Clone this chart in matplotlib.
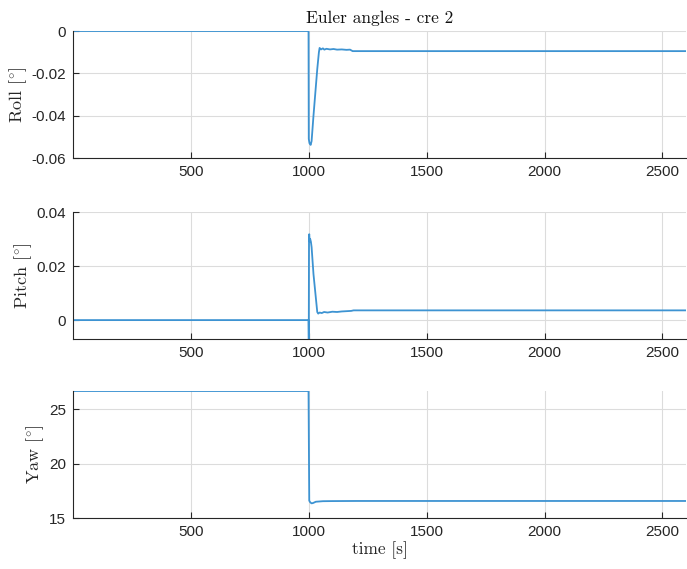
import matplotlib
matplotlib.use("Agg")
import matplotlib.pyplot as plt

plt.rcParams['mathtext.fontset'] = 'cm'
plt.rcParams['font.family'] = ['Liberation Sans', 'DejaVu Sans']

# time stamps (s) and values
roll_t = [0, 999, 1000, 1003, 1008, 1012, 1020, 1028, 1036, 1043, 1046, 1052, 1060, 1066, 1075, 1090, 1105, 1120, 1140, 1160, 1175, 1186, 1200, 2600]
roll_v = [0, 0, -0.051, -0.053, -0.0538, -0.052, -0.040, -0.029, -0.018, -0.010, -0.008, -0.0087, -0.0082, -0.0088, -0.0084, -0.0087, -0.0085, -0.0088, -0.0087, -0.0089, -0.0088, -0.0095, -0.0095, -0.0095]

pitch_t = [0, 999, 1000, 1001, 1002, 1004, 1006, 1009, 1012, 1020, 1028, 1036, 1040, 1046, 1055, 1065, 1080, 1100, 1120, 1140, 1160, 1180, 1190, 2600]
pitch_v = [0, 0, -0.007, 0.031, 0.0318, 0.029, 0.030, 0.029, 0.027, 0.017, 0.010, 0.003, 0.0024, 0.0028, 0.0026, 0.0030, 0.0028, 0.0031, 0.0030, 0.0032, 0.0033, 0.0034, 0.0036, 0.0036]

yaw_t = [0, 999, 1002, 1006, 1012, 1018, 1030, 1060, 1100, 1200, 2600]
yaw_v = [26.7, 26.7, 16.6, 16.45, 16.35, 16.38, 16.5, 16.55, 16.56, 16.57, 16.57]

x_ticks = [500, 1000, 1500, 2000, 2500]
x_lim = (0, 2600)

panels = [
    (roll_t, roll_v, r'Roll [$^{\circ}$]', (-0.06, 0), [-0.06, -0.04, -0.02, 0], ['-0.06', '-0.04', '-0.02', '0']),
    (pitch_t, pitch_v, r'Pitch [$^{\circ}$]', (-0.007, 0.04), [0, 0.02, 0.04], ['0', '0.02', '0.04']),
    (yaw_t, yaw_v, r'Yaw [$^{\circ}$]', (15, 26.7), [15, 20, 25], ['15', '20', '25']),
]

fig = plt.figure(figsize=(6.87, 5.69), dpi=100)
bottoms = [0.7223, 0.4042, 0.0896]
H = 0.2232
L = 73 / 687
W = 613 / 687

line_color = '#3d93d2'
axis_color = '#262626'

axes = []
for (t, v, lab, yl, yt, ytl), b in zip(panels, bottoms):
    ax = fig.add_axes([L, b, W, H])
    ax.plot(t, v, color=line_color, lw=1.3)
    ax.set_xlim(*x_lim)
    ax.set_ylim(*yl)
    ax.set_xticks(x_ticks)
    ax.set_xticklabels([str(x) for x in x_ticks])
    ax.set_yticks(yt)
    ax.set_yticklabels(ytl)
    ax.grid(True, color='#dcdcdc', lw=0.8)
    ax.set_axisbelow(True)
    for s in ['top', 'right']:
        ax.spines[s].set_visible(False)
    for s in ['left', 'bottom']:
        ax.spines[s].set_color(axis_color)
        ax.spines[s].set_linewidth(0.8)
    ax.tick_params(direction='in', length=4, width=0.8, colors=axis_color,
                   labelsize=11, labelcolor=axis_color, pad=5)
    ax.set_ylabel(lab, family='cmr10', fontsize=13, color=axis_color, labelpad=2)
    axes.append(ax)

axes[0].set_title('Euler angles - cre 2', family='cmr10', fontsize=12.5, color='#111111', pad=6)
axes[2].set_xlabel('time [s]', family='cmr10', fontsize=12.5, color=axis_color, labelpad=2)

fig.savefig('out.png', dpi=100)
